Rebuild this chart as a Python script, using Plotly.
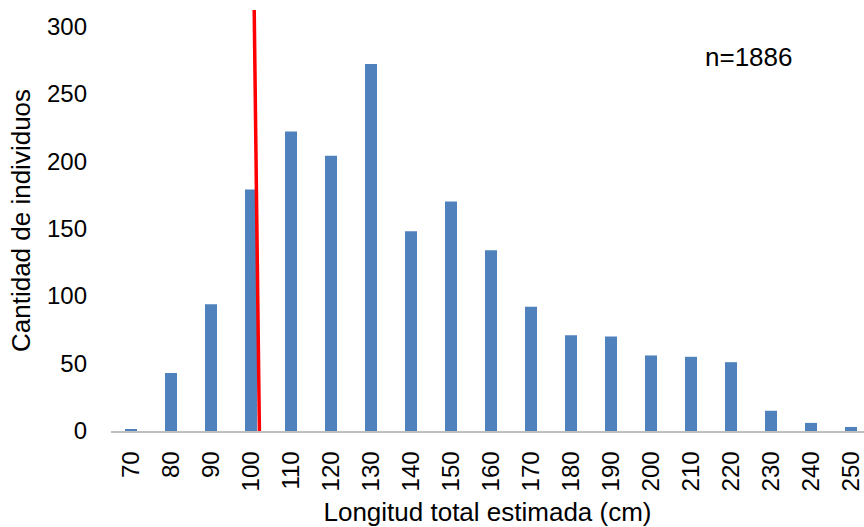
import plotly.graph_objects as go

categories = [70, 80, 90, 100, 110, 120, 130, 140, 150, 160, 170, 180, 190, 200, 210, 220, 230, 240, 250]
counts = [1, 43, 94, 179, 222, 204, 272, 148, 170, 134, 92, 71, 70, 56, 55, 51, 15, 6, 3]
tick_labels = [str(c) for c in categories]
y_ticks = [0, 50, 100, 150, 200, 250, 300]

# red reference line (x in cm, y in counts)
ref_x = [100.8, 102.1]
ref_y = [312, 0]

font_family = "Liberation Sans, Arial, sans-serif"

fig = go.Figure()
fig.add_trace(go.Bar(x=categories, y=counts, width=3.0,
                     marker=dict(color="#4F81BD", line=dict(width=0)),
                     showlegend=False))
fig.add_trace(go.Scatter(x=ref_x, y=ref_y, mode="lines",
                         line=dict(color="#FF0000", width=3.5),
                         showlegend=False, hoverinfo="skip"))

fig.update_layout(
    width=864, height=527,
    margin=dict(l=111, r=0, t=10, b=96),
    paper_bgcolor="white", plot_bgcolor="white",
    font=dict(family=font_family, size=24, color="#000000"),
    xaxis=dict(range=[65, 253.25], tickmode="array", tickvals=categories, ticktext=tick_labels,
               tickangle=-90, showgrid=False, zeroline=False, automargin=False,
               showline=True, linecolor="#BFBFBF", linewidth=1.5, ticks="",
               ticklabelstandoff=9, tickfont=dict(size=24),
               title=dict(text="Longitud total estimada (cm)", standoff=13,
                          font=dict(size=26))),
    yaxis=dict(range=[0, 312], tickmode="array", tickvals=y_ticks, showgrid=False,
               zeroline=False, showline=False, ticks="", ticklabelstandoff=23,
               automargin=False, tickfont=dict(size=24),
               title=dict(text="Cantidad de individuos", standoff=8,
                          font=dict(size=26))),
    annotations=[dict(text="n=1886", x=(748 - 111) / 753, y=(431 - 57) / 421,
                      xref="paper", yref="paper", xanchor="center", yanchor="middle",
                      showarrow=False, font=dict(size=26))],
)

fig.write_html("out.html", config={"displayModeBar": False},
               post_script="document.body.style.margin='0';document.body.style.overflow='hidden';")
